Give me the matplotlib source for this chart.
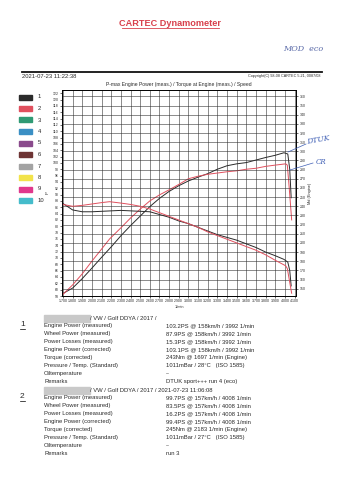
import matplotlib
matplotlib.use("Agg")
import matplotlib.pyplot as plt
from matplotlib.patches import Rectangle
from matplotlib.lines import Line2D
from matplotlib.ticker import FuncFormatter, MultipleLocator

plt.rcParams['font.family'] = ['Liberation Sans', 'DejaVu Sans']

# ---- curve data ----
rpm1 = [1700, 1800, 1900, 2000, 2100, 2200, 2300, 2400, 2500, 2600, 2700, 2800, 2900,
        3000, 3100, 3200, 3300, 3400, 3500, 3600, 3700, 3800, 3900, 3990, 4030, 4050, 4065]
power1 = [58.8, 60.5, 63.5, 66.8, 70.2, 73.5, 77.0, 80.2, 83.2, 86.2, 88.8, 91.0, 92.8,
          94.3, 95.5, 96.6, 98.0, 99.1, 99.7, 100.1, 100.9, 101.7, 102.4, 103.2, 102.8, 98.0, 89.0]
torque1 = [243, 236, 234, 234, 234.5, 235, 235.5, 235, 234.5, 234, 231, 228, 224,
           221, 217, 213, 209, 206, 203, 199, 195, 190, 186, 182, 179, 170, 153]

rpm2 = [1700, 1800, 1900, 2000, 2100, 2183, 2300, 2400, 2500, 2600, 2700, 2800, 2900,
        3000, 3100, 3200, 3300, 3400, 3500, 3600, 3700, 3800, 3900, 4008, 4025, 4045, 4070]
power2 = [58.5, 61.5, 65.0, 69.0, 72.8, 76.0, 79.5, 82.6, 85.4, 88.0, 89.9, 91.5, 93.2,
          95.0, 95.8, 96.4, 96.8, 97.2, 97.5, 98.0, 98.3, 98.9, 99.3, 99.7, 99.3, 92.0, 82.0]
torque2 = [242, 240, 241, 242.5, 244, 245, 243.5, 242, 240, 237, 233, 229, 225,
           221, 217, 212, 208, 204, 200, 196, 192, 187, 181, 175, 172, 160, 145]

legend_nums = ["1", "2", "3", "4", "5", "6", "7", "8", "9", "10"]
legend_cols = ["#2b2b2b", "#e0505e", "#2f9a74", "#3a8fc4", "#8a4a8c",
               "#6e3434", "#a3a3a3", "#f2e34a", "#e0388c", "#45bccb"]

run_labels = ["Engine Power (measured)", "Wheel Power (measured)", "Power Losses (measured)",
              "Engine Power (corrected)", "Torque (corrected)", "Pressure / Temp. (Standard)",
              "Oiltemperature", "Remarks"]
run1_values = ["103.2PS @ 158km/h / 3992 1/min", "87.9PS @ 158km/h / 3992 1/min",
               "15.3PS @ 158km/h / 3992 1/min", "103.1PS @ 158km/h / 3992 1/min",
               "243Nm @ 1697 1/min (Engine)", "1011mBar / 28°C   (ISO 1585)",
               "--", "DTUK sport+++ run 4 (eco)"]
run2_values = ["99.7PS @ 157km/h / 4008 1/min", "83.5PS @ 157km/h / 4008 1/min",
               "16.2PS @ 157km/h / 4008 1/min", "99.4PS @ 157km/h / 4008 1/min",
               "245Nm @ 2183 1/min (Engine)", "1011mBar / 27°C   (ISO 1585)",
               "--", "run 3"]

W, H = 340, 480
TXT = "#2a2a2a"
fig = plt.figure(figsize=(W / 100, H / 100), dpi=100)
fig.patch.set_facecolor("white")

def fx(x):
    return x / W

def fy(y):
    return 1 - y / H

# header
fig.text(fx(170), fy(23), "CARTEC Dynamometer", color="#d8404c", fontsize=6.6,
         fontweight="bold", ha="center", va="center")
fig.add_artist(Line2D([fx(122), fx(219)], [fy(27.5), fy(27.5)], color="#d8404c", lw=0.6))
fig.text(fx(283), fy(49), "MOD  eco", color="#5a6aa8", fontsize=5.8, style="italic",
         ha="left", va="center", family="DejaVu Serif")
fig.add_artist(Line2D([fx(22), fx(322)], [fy(72), fy(72)], color="#111111", lw=1.3))
fig.text(fx(22), fy(77), "2021-07-23 11:22:38", fontsize=4.2, color=TXT, ha="left", va="center")
fig.text(fx(321), fy(75.5), "Copyright(C) 98-08 CARTEC 5.21, 0087/08", fontsize=2.7,
         color=TXT, ha="right", va="center")

# legend boxes
for i, (num, col) in enumerate(zip(legend_nums, legend_cols)):
    yy = 97 + i * 11.5
    fig.add_artist(Rectangle((fx(19), fy(yy + 2.5)), 13 / W, 5 / H, color=col,
                             transform=fig.transFigure))
    fig.text(fx(38), fy(yy), num, fontsize=4.2, color=TXT, ha="left", va="center")

# main chart
ax = fig.add_axes([fx(62), fy(296), 234 / W, 206 / H])
ax2 = ax.twinx()

ax.plot(rpm1, power1, color="#2b2b2b", lw=0.7)
ax.plot(rpm2, power2, color="#e0505e", lw=0.7)
ax2.plot(rpm1, torque1, color="#2b2b2b", lw=0.7)
ax2.plot(rpm2, torque2, color="#e0505e", lw=0.7)

ax.set_xlim(1690, 4115)
ax.set_ylim(58, 123)
ax2.set_ylim(142, 367)

ax.xaxis.set_major_locator(MultipleLocator(100))
ax.xaxis.set_major_formatter(FuncFormatter(lambda v, p: f"{int(v) // 1000}.{int(v) % 1000:03d}"))
ax.yaxis.set_major_locator(MultipleLocator(2))
ax2.yaxis.set_major_locator(MultipleLocator(10))

ax.grid(axis="x", color="#333333", lw=0.4)
ax2.grid(axis="y", color="#333333", lw=0.4)
for a in (ax, ax2):
    a.tick_params(labelsize=2.5, length=1.5, width=0.4, pad=1, labelcolor=TXT)
    for s in a.spines.values():
        s.set_linewidth(0.6)

ax.set_title("P-max Engine Power (meas.) / Torque at Engine (meas.) / Speed", fontsize=3.6,
             pad=3, color=TXT)
ax.set_xlabel("1/min", fontsize=2.8, labelpad=1, color=TXT)
ax.set_ylabel("P", fontsize=3.2, labelpad=2, color=TXT)
ax2.set_ylabel("Md (Engine)", fontsize=2.8, labelpad=2, color=TXT)

# handwritten notes
fig.text(fx(306), fy(140), "DTUK", color="#3f5fb5", fontsize=5.5, style="italic",
         ha="left", va="center", family="DejaVu Serif", rotation=10)
fig.add_artist(Line2D([fx(288), fx(306)], [fy(152), fy(144)], color="#3f5fb5", lw=0.5))
fig.text(fx(316), fy(162), "CR", color="#3f5fb5", fontsize=5, style="italic",
         ha="left", va="center", family="DejaVu Serif")
fig.add_artist(Line2D([fx(290), fx(313)], [fy(170), fy(163)], color="#3f5fb5", lw=0.5))

# run summaries
def run_block(y0, num, header, values):
    fig.text(fx(20), fy(y0 + 7), num, fontsize=6, color=TXT, ha="left", va="center")
    fig.add_artist(Line2D([fx(20), fx(25)], [fy(y0 + 11), fy(y0 + 11)], color="black", lw=0.5))
    fig.add_artist(Rectangle((fx(44), fy(y0 + 3.5)), 46 / W, 7 / H, color="#c9c9c9",
                             transform=fig.transFigure))
    fig.text(fx(90), fy(y0), header, fontsize=4.2, color=TXT, ha="left", va="center")
    for k, (lab, val) in enumerate(zip(run_labels, values)):
        yy = y0 + 7.9 * (k + 1)
        fig.text(fx(44), fy(yy), lab, fontsize=4.2, color=TXT, ha="left", va="center")
        fig.text(fx(166), fy(yy), val, fontsize=4.2, color=TXT, ha="left", va="center")

run_block(318, "1", "/ VW / Golf DDYA / 2017 /", run1_values)
run_block(390, "2", "/ VW / Golf DDYA / 2017 / 2021-07-23 11:06:08", run2_values)

fig.savefig("out.png", dpi=100)
